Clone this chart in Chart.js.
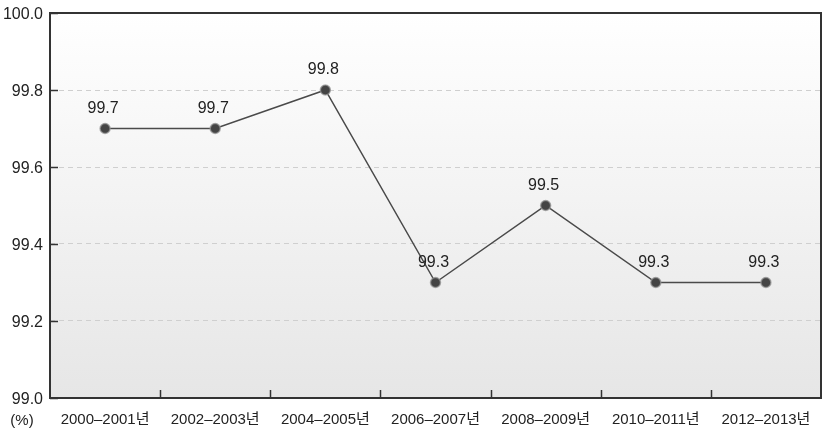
<!DOCTYPE html>
<html>
<head>
<meta charset="utf-8">
<script src="https://cdn.jsdelivr.net/npm/chart.js@4"></script>
<style>
  html, body { margin: 0; padding: 0; background: #fff; }
  #wrap { width: 825px; height: 440px; }
</style>
</head>
<body>
<div id="wrap"><canvas id="chart"></canvas></div>
<script>
const categories = ["2000\u20132001년", "2002\u20132003년", "2004\u20132005년", "2006\u20132007년", "2008\u20132009년", "2010\u20132011년", "2012\u20132013년"];
const values = [99.7, 99.7, 99.8, 99.3, 99.5, 99.3, 99.3];
const yTicks = [99.0, 99.2, 99.4, 99.6, 99.8, 100.0];

const FONT = '"Liberation Sans", Arial, "Noto Sans CJK KR", sans-serif';

// background gradient, frame, inner tick marks, point labels and the unit text
const decor = {
  id: "decor",
  beforeDraw(chart) {
    const { ctx, chartArea: a } = chart;
    const g = ctx.createLinearGradient(0, a.top, 0, a.bottom);
    g.addColorStop(0, "#ffffff");
    g.addColorStop(1, "#e6e6e6");
    ctx.save();
    ctx.fillStyle = g;
    ctx.fillRect(a.left, a.top, a.right - a.left, a.bottom - a.top);
    ctx.restore();
  },
  afterDatasetsDraw(chart) {
    const { ctx, chartArea: a, scales } = chart;
    ctx.save();
    ctx.strokeStyle = "#333";
    ctx.lineWidth = 2;
    ctx.strokeRect(a.left, a.top, a.right - a.left, a.bottom - a.top);

    // y ticks pointing inward
    ctx.lineWidth = 1.5;
    scales.y.ticks.forEach((t, i) => {
      const py = Math.round(scales.y.getPixelForTick(i)) + 0.5;
      ctx.beginPath();
      ctx.moveTo(a.left, py);
      ctx.lineTo(a.left + 8, py);
      ctx.stroke();
    });
    // x ticks at category boundaries
    for (let i = 1; i < categories.length; i++) {
      const px = Math.round((scales.x.getPixelForValue(i - 1) + scales.x.getPixelForValue(i)) / 2) + 0.5;
      ctx.beginPath();
      ctx.moveTo(px, a.bottom);
      ctx.lineTo(px, a.bottom - 8);
      ctx.stroke();
    }

    // value labels
    ctx.fillStyle = "#222";
    ctx.font = "16px " + FONT;
    ctx.textAlign = "center";
    ctx.textBaseline = "middle";
    const meta = chart.getDatasetMeta(0);
    meta.data.forEach((pt, i) => {
      ctx.fillText(values[i].toFixed(1), pt.x - 2, pt.y - 20);
    });

    ctx.font = "15px " + FONT;
    ctx.fillText("(%)", 22, 421);
    ctx.restore();
  }
};

new Chart(document.getElementById("chart"), {
  type: "line",
  data: {
    labels: categories,
    datasets: [{
      data: values,
      borderColor: "#4a4a4a",
      borderWidth: 1.5,
      pointRadius: 5,
      pointHoverRadius: 5,
      pointBackgroundColor: "#444",
      pointBorderColor: "rgba(150,150,150,0.7)",
      pointBorderWidth: 1.5,
      tension: 0
    }]
  },
  options: {
    responsive: true,
    maintainAspectRatio: false,
    animation: false,
    layout: { autoPadding: false, padding: { top: 13, right: 4, left: 0, bottom: 0 } },
    plugins: {
      legend: { display: false },
      tooltip: { enabled: false }
    },
    scales: {
      x: {
        offset: true,
        grid: { display: false, drawTicks: false },
        border: { display: false },
        ticks: {
          color: "#222",
          font: { family: FONT, size: 15 },
          padding: 13,
          maxRotation: 0,
          autoSkip: false
        },
        afterFit(s) { s.height = 42; s.paddingLeft = 0; s.paddingRight = 0; }
      },
      y: {
        min: 99.0,
        max: 100.0,
        afterBuildTicks(s) { s.ticks = yTicks.map(v => ({ value: v })); },
        grid: {
          color: (c) => (c.tick && (c.tick.value === 99.0 || c.tick.value === 100.0)) ? "rgba(0,0,0,0)" : "#cfcfcf",
          lineWidth: 1,
          drawTicks: false
        },
        border: { display: false, dash: [5, 4] },
        ticks: {
          color: "#222",
          font: { family: FONT, size: 16 },
          padding: 7,
          labelOffset: 2,
          callback: (v) => Number(v).toFixed(1)
        },
        afterFit(s) { s.width = 50; s.paddingTop = 0; s.paddingBottom = 0; }
      }
    }
  },
  plugins: [decor]
});
</script>
</body>
</html>
